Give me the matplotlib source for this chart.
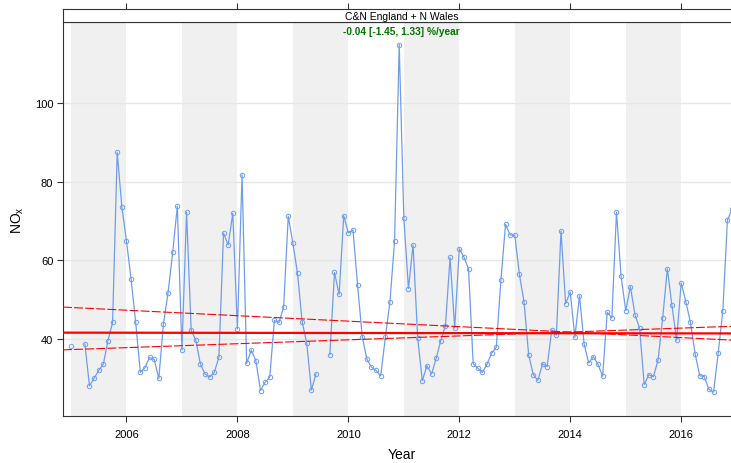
import numpy as np
import matplotlib
matplotlib.use("Agg")
import matplotlib.pyplot as plt

plt.rcParams["font.family"] = ["Liberation Sans", "DejaVu Sans"]

# Monthly mean NOx, Jan 2005 - Dec 2016 (NaN = missing month)
years = list(range(2005, 2017))
nox = [
    # 2005
    38.1, np.nan, np.nan, 38.7, 28.1, 30.0, 32.0, 33.6, 39.6, 44.2, 87.4, 73.6,
    # 2006
    64.9, 55.2, 44.2, 31.5, 32.7, 35.3, 34.8, 30.0, 43.8, 51.8, 62.0, 73.7,
    # 2007
    37.2, 72.2, 42.2, 39.7, 33.6, 31.1, 30.3, 31.5, 35.4, 66.9, 63.9, 71.9,
    # 2008
    42.5, 81.7, 33.8, 37.2, 34.4, 26.9, 29.0, 30.3, 44.7, 44.2, 48.1, 71.2,
    # 2009
    64.3, 56.7, 44.4, 38.9, 27.0, 31.1, np.nan, np.nan, 36.0, 56.9, 51.3, 71.3,
    # 2010
    66.9, 67.7, 53.6, 40.6, 34.9, 32.8, 32.0, 30.6, 40.4, 49.5, 65.0, 114.8,
    # 2011
    70.7, 52.8, 63.9, 40.2, 29.4, 33.2, 31.1, 35.1, 39.6, 43.4, 60.7, 42.8,
    # 2012
    62.9, 60.8, 57.8, 33.7, 32.6, 31.5, 33.6, 36.4, 37.9, 55.0, 69.1, 66.4,
    # 2013
    66.4, 56.4, 49.4, 36.0, 30.9, 29.5, 33.7, 33.0, 42.3, 41.0, 67.4, 49.0,
    # 2014
    51.9, 40.4, 51.0, 38.7, 33.9, 35.5, 33.6, 30.5, 46.8, 45.3, 72.2, 55.9,
    # 2015
    47.2, 53.3, 46.2, 42.7, 28.4, 30.9, 30.4, 34.7, 45.4, 57.8, 48.5, 39.7,
    # 2016
    54.2, 49.5, 44.2, 36.3, 30.7, 30.4, 27.2, 26.5, 36.4, 47.1, 70.2, 73.0,
]

# Theil-Sen trend: slope (%/year) with 95% interval, and line level at start
trend_pct = [-0.04, -1.45, 1.33]
trend_start_level = [41.6, 48.0, 37.3]
trend_start = 2005.0
trend_label = "-0.04 [-1.45, 1.33] %/year"
panel_title = "C&N England + N Wales"

t = np.array([y + m / 12.0 for y in years for m in range(12)])
v = np.array(nox, dtype=float)

W, H = 731, 464
fig = plt.figure(figsize=(W / 100, H / 100), dpi=100)

x0, x1 = 2004.856, 2017.06
y0, y1 = 20.35, 120.6

left_px, right_px = 63, 740
top_px, bot_px = 22.7, 417.3
ax = fig.add_axes([left_px / W, 1 - bot_px / H, (right_px - left_px) / W,
                   (bot_px - top_px) / H])
ax.set_xlim(x0, x1)
ax.set_ylim(y0, y1)

# alternate-year shading
for yr in range(2005, 2017, 2):
    ax.axvspan(yr, yr + 1, color="#F0F0F0", lw=0, zorder=0)

# horizontal reference lines
for gy in [40, 60, 80, 100]:
    ax.axhline(gy, color="#E6E6E6", lw=1.0, zorder=1)

blue = "#6F9DEE"
ax.plot(t, v, color=blue, lw=0.9, zorder=3)
ax.plot(t, v, linestyle="none", marker="o", ms=3.2, mfc="none", mec=blue,
        mew=0.7, zorder=4)

# trend lines
xx = np.array([x0, x1])
for i, (pct, lvl) in enumerate(zip(trend_pct, trend_start_level)):
    yy = lvl * (1 + pct / 100.0 * (xx - trend_start))
    if i == 0:
        ax.plot(xx, yy, color="red", lw=1.6, zorder=5)
    else:
        ax.plot(xx, yy, color="red", lw=0.8, ls=(0, (8, 2)), zorder=5)

ax.text(0.5 * (x0 + x1), y1 - 2.4, trend_label, ha="center", va="center",
        color="#007800", fontsize=7.3, fontweight="bold", zorder=6)

for s in ax.spines.values():
    s.set_color("#333333")
    s.set_linewidth(0.8)

ax.set_xticks([2006, 2008, 2010, 2012, 2014, 2016])
ax.set_yticks([40, 60, 80, 100])
ax.tick_params(axis="both", direction="out", length=4, width=0.8,
               colors="#333333", labelsize=8, labelcolor="black")
ax.tick_params(axis="y", pad=3)
ax.tick_params(axis="x", pad=5)
ax.set_xlabel("Year", fontsize=10, labelpad=6)
ax.set_ylabel(r"NO$_\mathregular{x}$", fontsize=10, labelpad=6)

# strip on top
strip_top = 10.3
sax = fig.add_axes([left_px / W, 1 - top_px / H, (right_px - left_px) / W,
                    (top_px - strip_top) / H])
sax.set_xlim(x0, x1)
sax.set_ylim(0, 1)
sax.set_facecolor("white")
sax.set_yticks([])
sax.set_xticks([2006, 2008, 2010, 2012, 2014, 2016])
sax.tick_params(axis="x", direction="out", length=4, width=0.8,
                colors="#333333", top=True, bottom=False, labeltop=False,
                labelbottom=False)
for s in sax.spines.values():
    s.set_color("#333333")
    s.set_linewidth(0.8)
sax.text(0.5 * (x0 + x1), 0.5, panel_title, ha="center", va="center",
         fontsize=7.5, color="black")

fig.savefig("out.png", dpi=100)
